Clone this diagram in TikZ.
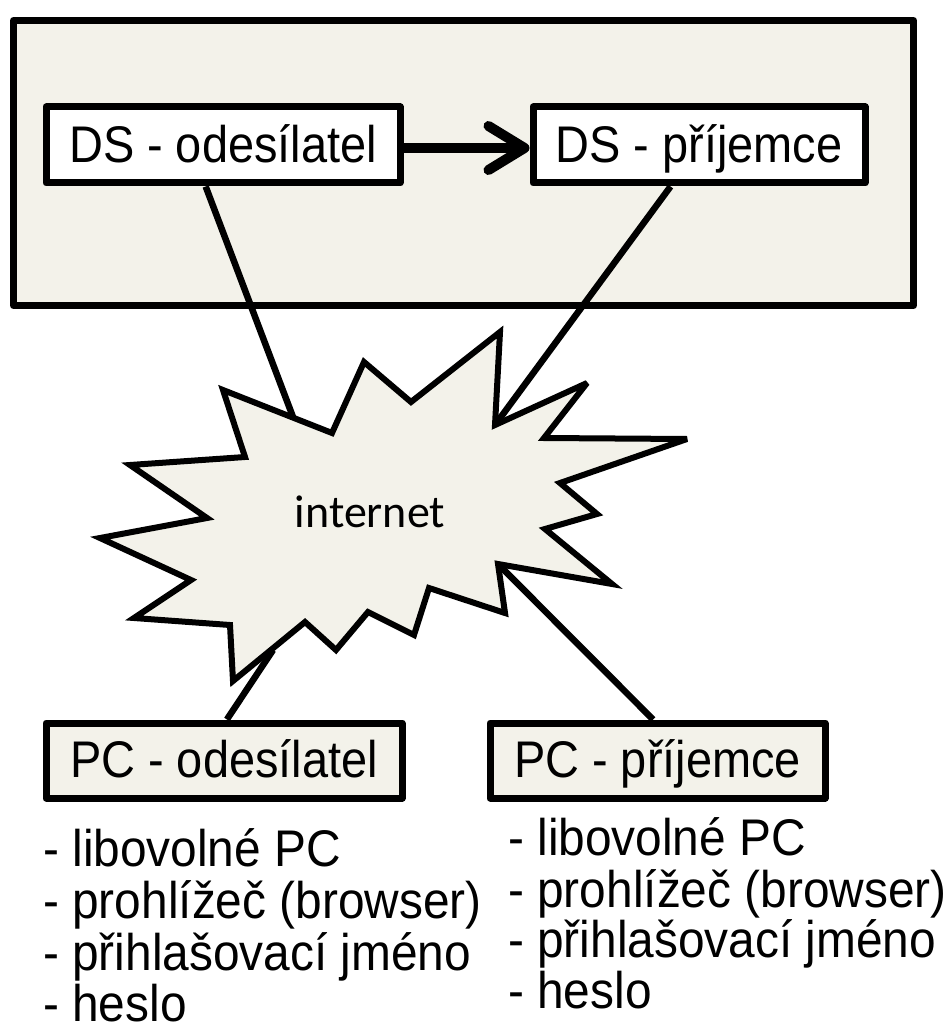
\documentclass[tikz,border=0pt]{standalone}
\usepackage{fontspec}
\usepackage{graphicx}
\setmainfont{Liberation Sans}
\newfontfamily\calib{Carlito}
\usetikzlibrary{arrows.meta,calc}
\definecolor{beige}{RGB}{243,242,234}
\newcommand{\tall}[1]{\scalebox{1.02}[1.12]{#1}}
\newcommand{\talll}[1]{\scalebox{1.04}[1.12]{#1}}
\begin{document}
\begin{tikzpicture}[x=1pt,y=-1pt,
  frame/.style={draw=black,line width=7pt,line join=round,fill=beige,inner sep=0pt},
  dsbox/.style={draw=black,line width=7pt,line join=round,fill=white,inner sep=0pt,
    minimum height=76pt,text height=36pt,text depth=0pt,font=\fontsize{46}{46}\selectfont},
  pcbox/.style={draw=black,line width=7pt,line join=round,fill=beige,inner sep=0pt,
    minimum height=75pt,text height=33pt,text depth=0pt,font=\fontsize{46}{46}\selectfont},
  link/.style={draw=black,line width=6.5pt},
  burst/.style={draw=black,line width=6pt,fill=beige,line join=miter,miter limit=4},
  lst/.style={anchor=base west,inner sep=0pt,font=\fontsize{46}{46}\selectfont}]
\useasboundingbox (0,0) rectangle (948,1032);
\node[frame,minimum width=900pt,minimum height=285pt,anchor=north west] (ds) at (10,17) {};
\node[dsbox,minimum width=354pt] (dso) at (223,145) {\tall{DS - odesílatel}};
\node[dsbox,minimum width=332pt] (dsp) at (699,145) {\tall{DS - příjemce}};
\node[pcbox,minimum width=356pt] (pco) at (224,760.5) {\tall{PC - odesílatel}};
\node[pcbox,minimum width=335pt] (pcp) at (657.5,760.5) {\tall{PC - příjemce}};
% starburst
\draw[burst] (223,390) -- (332,433) -- (364,362) -- (411,402) -- (500,332) -- (495,425)
  -- (587,383) -- (544,438) -- (687,439) -- (560,483) -- (597,514) -- (545,529)
  -- (612,584) -- (498,564) -- (505,613) -- (429,588) -- (414,635) -- (368,612)
  -- (336,650) -- (305,622) -- (233,681) -- (230,625) -- (134,618) -- (191,580)
  -- (100,538) -- (207,518) -- (130,465) -- (245,457) -- cycle;
\node[inner sep=0pt,anchor=base,font=\calib\fontsize{46}{46}\selectfont] (net) at (370,527) {internet};
\coordinate (n1) at (293,417);
\coordinate (n2) at (495,425);
\coordinate (n3) at (273,650);
\coordinate (n4) at (500,566);
% connectors
\draw[link] ($(dso.south west)!0.452!(dso.south east)$) -- (n1);
\draw[link] ($(dsp.south west)!0.416!(dsp.south east)$) -- (n2);
\draw[link] ($(pco.north west)!0.508!(pco.north east)$) -- (n3);
\draw[link] ($(pcp.north west)!0.487!(pcp.north east)$) -- (n4);
\draw[line width=10pt,-{Straight Barb[length=36pt,width=44pt,round]}] ([yshift=-3pt]dso.east) -- ([yshift=-3pt]dsp.west);
% lists
\node[lst] (l1) at (43,866) {\talll{- libovolné PC}};
\node[lst] (l2) at (43,918) {\talll{- prohlížeč (browser)}};
\node[lst] (l3) at (43,970) {\talll{- přihlašovací jméno}};
\node[lst] (l4) at (43,1021) {\talll{- heslo}};
\node[lst] (r1) at (508,855) {\talll{- libovolné PC}};
\node[lst] (r2) at (508,907) {\talll{- prohlížeč (browser)}};
\node[lst] (r3) at (508,957) {\talll{- přihlašovací jméno}};
\node[lst] (r4) at (508,1008) {\talll{- heslo}};
\end{tikzpicture}
\end{document}
